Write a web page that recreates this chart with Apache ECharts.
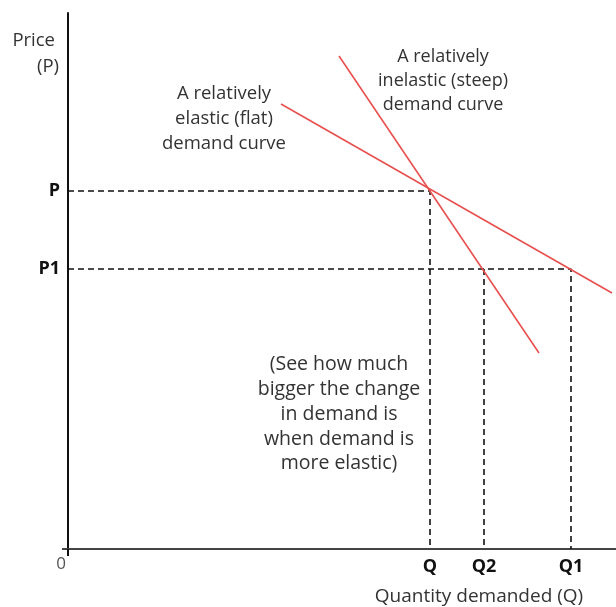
<!DOCTYPE html>
<html>
<head>
<meta charset="utf-8">
<script src="https://cdn.jsdelivr.net/npm/echarts@6/dist/echarts.min.js"></script>
<style>
  html, body { margin: 0; padding: 0; background: #fff; }
  #chart { width: 616px; height: 607px; }
</style>
</head>
<body>
<div id="chart"></div>
<script>
// axis ranges (arbitrary units)
const xMax = 548
const yMax = 536

// price / quantity levels
const priceNames = ['P1', 'P']
const priceValues = [280, 358]
const qtyNames = ['Q', 'Q2', 'Q1']
const qtyValues = [362, 416, 503]

// demand curves (end points)
const elasticCurve = [[213, 445], [544, 256]]
const inelasticCurve = [[271, 493], [471, 196]]

// dashed guides
const guideP = [[0, 358], [362, 358], [362, 0]]
const guideP1 = [[0, 280], [503, 280], [503, 0]]
const guideQ2 = [[416, 280], [416, 0]]

const font = 'Open Sans'
const textColor = '#333'
const red = '#e8504f'

const chart = echarts.init(document.getElementById('chart'))

const dashed = {
  type: 'line',
  symbol: 'none',
  silent: true,
  lineStyle: { color: '#111', width: 1.6, type: [6, 4] }
}
const curve = {
  type: 'line',
  symbol: 'none',
  silent: true,
  lineStyle: { color: red, width: 1.6 }
}

// helper for the free text blocks
const note = (x, y, text, size, lh, align) => ({
  type: 'text', x: x, y: y,
  style: {
    text: text,
    align: align || 'center',
    verticalAlign: 'top',
    font: size + 'px ' + font,
    fill: textColor,
    lineHeight: lh
  }
})

const option = {
  backgroundColor: '#fff',
  animation: false,
  grid: { left: 68, right: 0, top: 13, bottom: 58 },
  xAxis: {
    type: 'value',
    min: 0,
    max: xMax,
    splitLine: { show: false },
    axisLine: { lineStyle: { color: '#444', width: 2 } },
    axisTick: { show: true, customValues: [0], length: 7, lineStyle: { color: '#111', width: 2 } },
    axisLabel: {
      customValues: qtyValues,
      margin: 9,
      fontFamily: font,
      fontSize: 18,
      fontWeight: 'bold',
      color: '#111',
      formatter: (v) => qtyNames[qtyValues.indexOf(v)]
    }
  },
  yAxis: {
    type: 'value',
    min: 0,
    max: yMax,
    splitLine: { show: false },
    axisLine: { lineStyle: { color: '#111', width: 2 } },
    axisTick: { show: true, customValues: [0], length: 6, lineStyle: { color: '#444', width: 2 } },
    axisLabel: {
      customValues: priceValues,
      margin: 8,
      fontFamily: font,
      fontSize: 18,
      fontWeight: 'bold',
      color: '#111',
      formatter: (v) => priceNames[priceValues.indexOf(v)]
    }
  },
  graphic: [
    note(55, 28, 'Price', 18.5, 26, 'right'),
    note(59, 54, '(P)', 18.5, 26, 'right'),
    {
      type: 'text', x: 61, y: 564,
      style: { text: '0', align: 'center', verticalAlign: 'middle', font: '17px ' + font, fill: '#555' }
    },
    {
      type: 'text', x: 479, y: 597,
      style: { text: 'Quantity demanded (Q)', align: 'center', verticalAlign: 'middle', font: '19px ' + font, fill: textColor }
    },
    note(224, 81.5, 'A relatively\nelastic (flat)\ndemand curve', 18.5, 25),
    note(443, 45, 'A relatively\ninelastic (steep)\ndemand curve', 18, 24),
    note(339, 352.5, '(See how much\nbigger the change\nin demand is\nwhen demand is\nmore elastic)', 19.5, 24.75)
  ],
  series: [
    Object.assign({ data: guideP }, dashed),
    Object.assign({ data: guideP1 }, dashed),
    Object.assign({ data: guideQ2 }, dashed),
    Object.assign({ data: elasticCurve }, curve),
    Object.assign({ data: inelasticCurve }, curve)
  ]
}

chart.setOption(option)
</script>
</body>
</html>
